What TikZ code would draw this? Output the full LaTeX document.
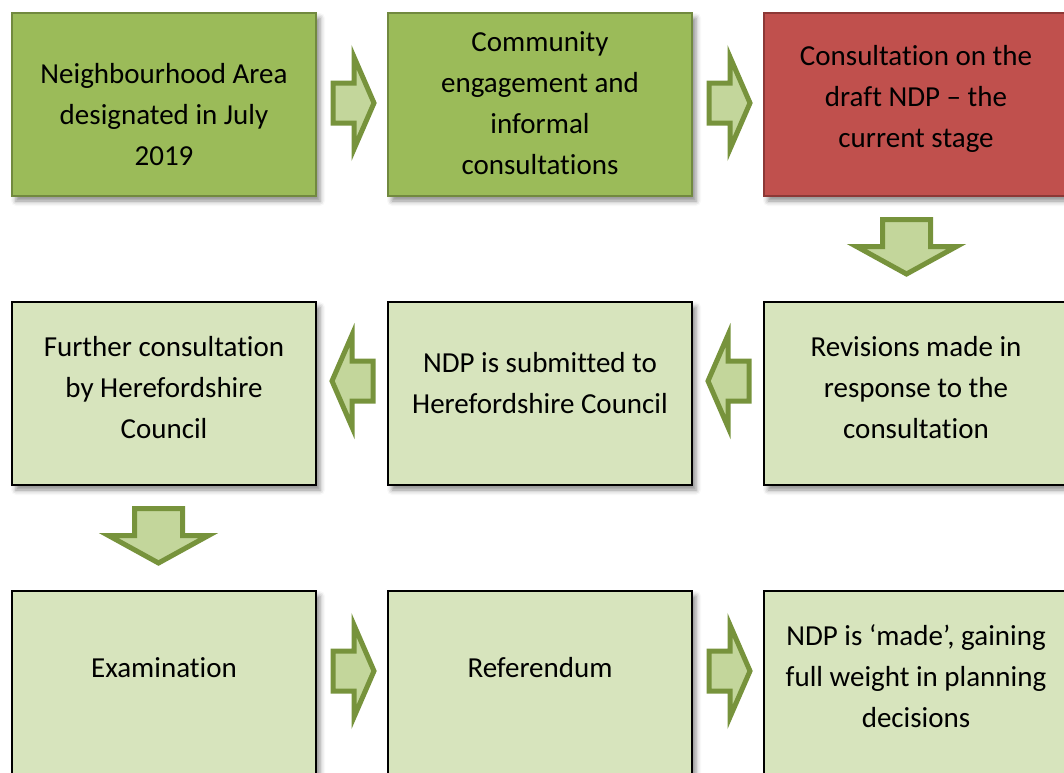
\documentclass[tikz,border=0pt]{standalone}
\usepackage{fontspec}
\setmainfont{Carlito}[Ligatures={TeX,NoCommon}]
\usepackage{xcolor}
\usetikzlibrary{calc,shadows.blur}

\definecolor{donefill}{HTML}{9BBB59}
\definecolor{doneline}{HTML}{71893F}
\definecolor{nowfill}{HTML}{C0504D}
\definecolor{nowline}{HTML}{8C3836}
\definecolor{nextfill}{HTML}{D7E4BD}
\definecolor{arrowfill}{HTML}{C3D69B}
\definecolor{arrowline}{HTML}{77933C}

\begin{document}
\begin{tikzpicture}[x=1pt, y=-1pt,
  every node/.style={font=\fontsize{29}{41}\selectfont},
  box/.style={draw, line width=2.5pt, minimum width=304pt, minimum height=183pt,
    blur shadow={shadow xshift=4pt, shadow yshift=-5pt, shadow blur radius=5pt, shadow opacity=45}},
  donebox/.style={box, fill=donefill, draw=doneline},
  nowbox/.style={box, fill=nowfill, draw=nowline},
  nextbox/.style={box, fill=nextfill, draw=black},
  boxtext/.style={align=center, inner sep=0pt},
  blockarrow/.style={draw=arrowline, fill=arrowfill, line width=5pt, line join=miter},
  harrow/.pic={\draw[blockarrow] (-21,-20) -- (0,-20) -- (0,-46) -- (20,0) -- (0,46) -- (0,20) -- (-21,20) -- cycle;},
  varrow/.pic={\draw[blockarrow] (-24,-27.5) -- (24,-27.5) -- (24,-0.5) -- (50,-0.5) -- (0,27) -- (-50,-0.5) -- (-24,-0.5) -- cycle;}]

\useasboundingbox (0,0) rectangle (1064,772);
\clip (0,0) rectangle (1064,772);

% first row
\node[donebox] (area) at (164,104.5) {};
\node[donebox] (engage) at (540,104.5) {};
\node[nowbox] (draft) at (916,104.5) {};

% second row
\node[nextbox] (further) at (164,393.5) {};
\node[nextbox] (submit) at (540,393.5) {};
\node[nextbox] (revise) at (916,393.5) {};

% third row
\node[nextbox] (exam) at (164,682.5) {};
\node[nextbox] (refer) at (540,682.5) {};
\node[nextbox] (made) at (916,682.5) {};

% texts
\node[boxtext] (areatext) at (164,115) {Neighbourhood Area\\designated in July\\2019};
\node[boxtext] (engagetext) at (540,103.5) {Community\\engagement and\\informal\\consultations};
\node[boxtext] (drafttext) at (916,99) {Consultation on the\\draft NDP – the\\current stage};
\node[boxtext] (furthertext) at (164,388) {Further consultation\\by Herefordshire\\Council};
\node[boxtext] (submittext) at (540,383.5) {NDP is submitted to\\Herefordshire Council};
\node[boxtext] (revisetext) at (916,388) {Revisions made in\\response to the\\consultation};
\node[boxtext] (examtext) at (164,668) {Examination};
\node[boxtext] (refertext) at (540,668) {Referendum};
\node[boxtext] (madetext) at (916,676) {NDP is ‘made’, gaining\\full weight in planning\\decisions};

% arrows
\pic at ($(area.east)!0.5!(engage.west)+(2,-1.5)$) {harrow};
\pic at ($(engage.east)!0.5!(draft.west)+(2,-1.5)$) {harrow};
\pic at ($(draft.south)!0.5!(revise.north)+(-9.5,-2)$) {varrow};
\pic[rotate=180] at ($(revise.west)!0.5!(submit.east)+(0,-12.5)$) {harrow};
\pic[rotate=180] at ($(submit.west)!0.5!(further.east)+(0,-12.5)$) {harrow};
\pic at ($(further.south)!0.5!(exam.north)+(-5.5,-2)$) {varrow};
\pic at ($(exam.east)!0.5!(refer.west)+(2,-11.5)$) {harrow};
\pic at ($(refer.east)!0.5!(made.west)+(2,-11.5)$) {harrow};

\end{tikzpicture}
\end{document}
